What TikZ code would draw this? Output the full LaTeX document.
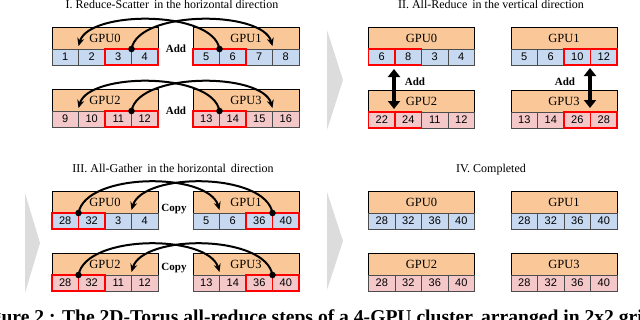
\documentclass[tikz,border=0pt]{standalone}
\usepackage{fontspec}
\setmainfont{Liberation Serif}
\setsansfont{Liberation Sans}
\usetikzlibrary{arrows.meta}
\definecolor{hdrc}{HTML}{FAC898}
\definecolor{bluec}{HTML}{C6D9F1}
\definecolor{pinkc}{HTML}{F4C7C9}
\definecolor{chev}{HTML}{DCDCDC}
\tikzset{
 hdr/.style={draw=black, line width=1pt, fill=hdrc, minimum width=106pt, minimum height=22pt, inner sep=0pt, outer sep=0pt, anchor=north west, font=\rmfamily\fontsize{12.5}{12.5}\selectfont},
 cellb/.style={draw=black!70, line width=0.7pt, minimum width=26.5pt, minimum height=16pt, inner sep=0pt, outer sep=0pt, anchor=north west, font=\sffamily\fontsize{11}{11}\selectfont},
 hl/.style={draw=red, line width=1.6pt},
 dotn/.style={circle, fill=black, inner sep=0pt, minimum size=6.5pt},
 curv/.style={line width=2pt, -{Stealth[length=8pt,width=7pt]}},
 dbl/.style={line width=4pt, {Triangle[length=8pt,width=12pt]}-{Triangle[length=8pt,width=12pt]}},
 ttl/.style={font=\fontsize{12}{12}\selectfont, anchor=base},
 opl/.style={font=\bfseries\fontsize{11}{11}\selectfont},
 chevs/.style={fill=chev},
}
\newcommand\gpu[9]{%
  \node[hdr] (#1) at (#2,#3) {#4};
  \node[cellb, fill=#5] (#1-1) at ({#2},{#3+22}) {#6};
  \node[cellb, fill=#5] (#1-2) at ({#2+26.5},{#3+22}) {#7};
  \node[cellb, fill=#5] (#1-3) at ({#2+53},{#3+22}) {#8};
  \node[cellb, fill=#5] (#1-4) at ({#2+79.5},{#3+22}) {#9};
}
\newcommand\hlc[1]{\draw[hl] (#1.north west) rectangle (#1.south east);}
\begin{document}
\begin{tikzpicture}[x=1pt,y=-1pt]
\useasboundingbox (0,0) rectangle (640,319);
\clip (0,0) rectangle (640,319);
% chevrons
\fill[chevs] (327,30) -- (343,80) -- (327,130) -- cycle;
\fill[chevs] (25,193) -- (40,243) -- (25,293) -- cycle;
\fill[chevs] (327,192) -- (343,241) -- (327,290) -- cycle;
% titles
\node[ttl] (t1) at (172,8.5) {I. Reduce-Scatter\, in the horizontal direction};
\node[ttl] (t2) at (491,8.5) {II. All-Reduce\, in the vertical direction};
\node[ttl] (t3) at (173,172) {III. All-Gather\, in the horizontal\, direction};
\node[ttl] (t4) at (491,172) {IV. Completed};
% Panel I
\gpu{a0}{52}{27}{GPU0}{bluec}{1}{2}{3}{4}
\gpu{a1}{193}{27}{GPU1}{bluec}{5}{6}{7}{8}
\gpu{a2}{52}{89}{GPU2}{pinkc}{9}{10}{11}{12}
\gpu{a3}{193}{89}{GPU3}{pinkc}{13}{14}{15}{16}
\hlc{a0-3}\hlc{a0-4}\hlc{a1-1}\hlc{a1-2}
\hlc{a2-3}\hlc{a2-4}\hlc{a3-1}\hlc{a3-2}
\node[opl] (add1) at (176,48.5) {Add};
\node[opl] (add2) at (176,110.5) {Add};
\node[dotn] (da1) at (131.5,49) {};
\coordinate (ta1) at (272.5,46);
\draw[curv] (da1.center) .. controls (138,10) and (262,10) .. (ta1);
\node[dotn] (db1) at (219.5,49) {};
\coordinate (tb1) at (78.5,46);
\draw[curv] (db1.center) .. controls (213,10) and (89,10) .. (tb1);
\node[dotn] (da2) at (131.5,111) {};
\coordinate (ta2) at (272.5,108);
\draw[curv] (da2.center) .. controls (138,72) and (262,72) .. (ta2);
\node[dotn] (db2) at (219.5,111) {};
\coordinate (tb2) at (78.5,108);
\draw[curv] (db2.center) .. controls (213,72) and (89,72) .. (tb2);
% Panel II
\gpu{b0}{368.5}{27}{GPU0}{bluec}{6}{8}{3}{4}
\gpu{b1}{511}{27}{GPU1}{bluec}{5}{6}{10}{12}
\gpu{b2}{368.5}{90}{GPU2}{pinkc}{22}{24}{11}{12}
\gpu{b3}{511}{90}{GPU3}{pinkc}{13}{14}{26}{28}
\hlc{b0-1}\hlc{b0-2}\hlc{b1-3}\hlc{b1-4}
\hlc{b2-1}\hlc{b2-2}\hlc{b3-3}\hlc{b3-4}
\coordinate (va1) at (394,69);
\coordinate (va2) at (394,109);
\draw[dbl] (va1) -- (va2);
\coordinate (vb1) at (590,68);
\coordinate (vb2) at (590,108);
\draw[dbl] (vb1) -- (vb2);
\node[opl] (add3) at (415,82) {Add};
\node[opl] (add4) at (565,82) {Add};
% Panel III
\gpu{c0}{52}{191}{GPU0}{bluec}{28}{32}{3}{4}
\gpu{c1}{193}{191}{GPU1}{bluec}{5}{6}{36}{40}
\gpu{c2}{52}{253}{GPU2}{pinkc}{28}{32}{11}{12}
\gpu{c3}{193}{253}{GPU3}{pinkc}{13}{14}{36}{40}
\hlc{c0-1}\hlc{c0-2}\hlc{c1-3}\hlc{c1-4}
\hlc{c2-1}\hlc{c2-2}\hlc{c3-3}\hlc{c3-4}
\node[opl] (cp1) at (174,209) {Copy};
\node[opl] (cp2) at (174,268) {Copy};
\node[dotn] (dc1) at (78.5,213) {};
\coordinate (tc1) at (219.5,210);
\draw[curv] (dc1.center) .. controls (86,172) and (208,172) .. (tc1);
\node[dotn] (dd1) at (272.5,213) {};
\coordinate (td1) at (131.5,210);
\draw[curv] (dd1.center) .. controls (265,172) and (143,172) .. (td1);
\node[dotn] (dc2) at (78.5,275) {};
\coordinate (tc2) at (219.5,272);
\draw[curv] (dc2.center) .. controls (86,234) and (208,234) .. (tc2);
\node[dotn] (dd2) at (272.5,275) {};
\coordinate (td2) at (131.5,272);
\draw[curv] (dd2.center) .. controls (265,234) and (143,234) .. (td2);
% Panel IV
\gpu{e0}{368.5}{191}{GPU0}{bluec}{28}{32}{36}{40}
\gpu{e1}{511}{191}{GPU1}{bluec}{28}{32}{36}{40}
\gpu{e2}{368.5}{253}{GPU2}{pinkc}{28}{32}{36}{40}
\gpu{e3}{511}{253}{GPU3}{pinkc}{28}{32}{36}{40}
% caption
\node[font=\bfseries\fontsize{19.6}{19.6}\selectfont, anchor=base] (cap) at (314,323.5) {Figure 2 : The 2D-Torus all-reduce steps of a 4-GPU cluster, arranged in 2x2 grid};
\end{tikzpicture}
\end{document}
